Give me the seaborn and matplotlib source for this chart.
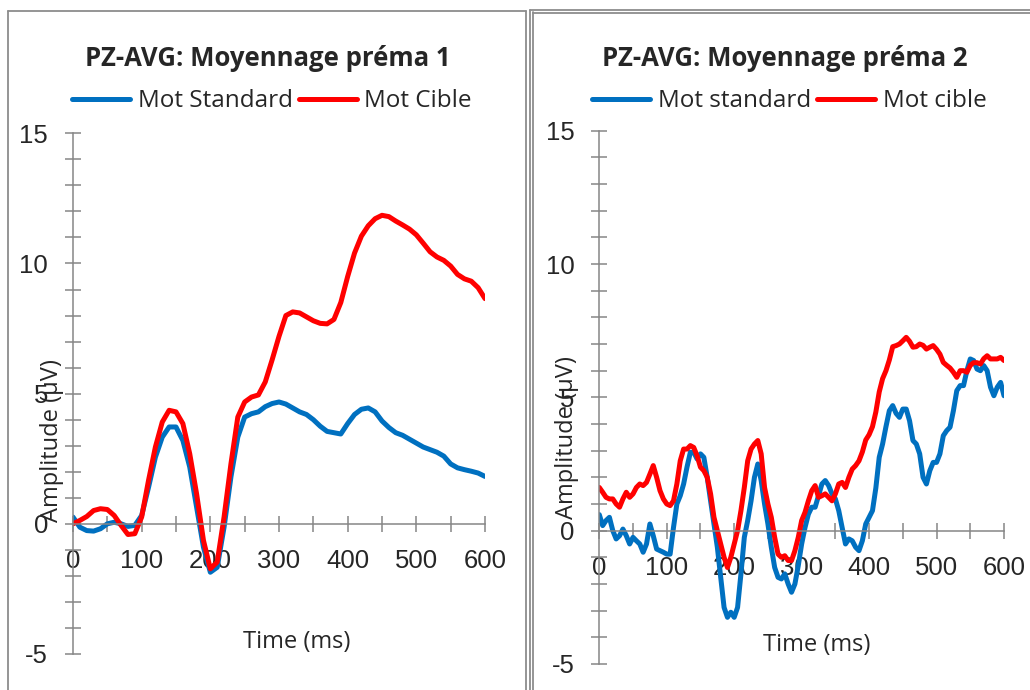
import numpy as np
import pandas as pd
import matplotlib
matplotlib.use("Agg")
import matplotlib.pyplot as plt
from matplotlib.lines import Line2D
import seaborn as sns

# --- data (amplitude in microvolts) ---
time_p1 = list(range(0, 601, 10))
standard_p1 = [0.26, -0.13, -0.26, -0.28, -0.19, 0.0, 0.06, 0.0, -0.1, -0.06,
               0.32, 1.4, 2.56, 3.33, 3.72, 3.72, 3.2, 2.18, 0.64, -0.9,
               -1.86, -1.67, -0.13, 1.8, 3.33, 4.1, 4.23, 4.3, 4.5, 4.62,
               4.68, 4.6, 4.45, 4.3, 4.2, 4.0, 3.75, 3.55, 3.5, 3.45,
               3.85, 4.2, 4.4, 4.45, 4.3, 3.95, 3.7, 3.5, 3.4, 3.25,
               3.1, 2.95, 2.85, 2.75, 2.6, 2.3, 2.15, 2.08, 2.02, 1.95, 1.82]
cible_p1 = [0.0, 0.13, 0.28, 0.51, 0.58, 0.55, 0.32, -0.06, -0.41, -0.38,
            0.26, 1.67, 2.95, 3.91, 4.36, 4.3, 3.85, 2.69, 1.15, -0.64,
            -1.73, -1.47, 0.26, 2.3, 4.1, 4.68, 4.87, 4.95, 5.45, 6.3,
            7.2, 8.0, 8.14, 8.1, 7.95, 7.8, 7.7, 7.68, 7.85, 8.5,
            9.5, 10.4, 11.05, 11.45, 11.72, 11.85, 11.8, 11.63, 11.48, 11.32,
            11.1, 10.78, 10.45, 10.25, 10.12, 9.9, 9.58, 9.41, 9.32, 9.07, 8.65]

time_p2 = list(range(0, 601, 5))
standard_p2 = [0.6, 0.19, 0.38, 0.5, 0.0, -0.31, -0.19, 0.06, -0.19, -0.5,
               -0.25, -0.38, -0.5, -0.81, -0.5, 0.25, -0.19, -0.69, -0.75, -0.81,
               -0.88, -0.88, 0.12, 1.0, 1.31, 1.75, 2.38, 2.94, 2.94, 2.69,
               2.88, 2.75, 2.0, 1.12, 0.25, -0.62, -1.75, -2.88, -3.25, -3.06,
               -3.25, -2.88, -1.62, -0.25, 0.38, 1.12, 2.0, 2.5, 1.88, 1.0,
               0.25, -0.62, -1.38, -1.75, -1.81, -1.62, -2.0, -2.31, -2.0, -1.31,
               -0.5, 0.12, 0.62, 0.88, 0.88, 1.31, 1.75, 1.88, 1.69, 1.38,
               1.19, 0.75, 0.12, -0.5, -0.31, -0.38, -0.62, -0.75, -0.38, 0.25,
               0.5, 0.75, 1.6, 2.75, 3.25, 3.9, 4.5, 4.69, 4.4, 4.25,
               4.56, 4.56, 4.12, 3.38, 3.25, 2.88, 2.0, 1.75, 2.25, 2.56,
               2.56, 2.88, 3.56, 3.75, 3.88, 4.5, 5.25, 5.44, 5.44, 6.0,
               6.44, 6.38, 6.06, 6.0, 6.19, 6.0, 5.38, 5.06, 5.38, 5.56, 5.06]
cible_p2 = [1.62, 1.44, 1.25, 1.19, 1.19, 1.0, 0.88, 1.19, 1.44, 1.25,
            1.38, 1.62, 1.75, 1.69, 1.81, 2.12, 2.44, 2.0, 1.5, 1.19,
            1.0, 0.94, 1.12, 1.75, 2.62, 3.06, 3.06, 3.19, 3.12, 2.81,
            2.38, 2.25, 2.0, 1.38, 0.5, 0.0, -0.5, -1.0, -1.38, -1.0,
            -0.5, 0.0, 0.75, 1.62, 2.62, 3.06, 3.25, 3.38, 2.88, 1.62,
            1.0, 0.5, -0.25, -0.88, -1.0, -0.94, -1.12, -1.12, -0.75, -0.25,
            0.38, 0.69, 1.12, 1.5, 1.69, 1.25, 1.31, 1.38, 1.25, 1.12,
            1.38, 1.75, 1.81, 1.62, 2.0, 2.31, 2.44, 2.62, 2.95, 3.4,
            3.6, 3.9, 4.45, 5.2, 5.7, 6.0, 6.4, 6.9, 6.94, 7.0,
            7.12, 7.25, 7.1, 6.88, 6.9, 7.0, 6.95, 6.81, 6.88, 6.94,
            6.8, 6.62, 6.31, 6.2, 6.1, 5.94, 5.75, 6.0, 6.0, 5.94,
            6.2, 6.3, 6.3, 6.25, 6.45, 6.56, 6.44, 6.44, 6.44, 6.5, 6.38]

titles = ["PZ-AVG: Moyennage préma 1", "PZ-AVG: Moyennage préma 2"]
labels_p1 = ["Mot Standard", "Mot Cible"]
labels_p2 = ["Mot standard", "Mot cible"]

sns.set_style("white")
plt.rcParams["font.family"] = ["Liberation Sans", "DejaVu Sans"]
plt.rcParams["axes.unicode_minus"] = False

BLUE = "#0070C0"
RED = "#FF0000"
GRID = "#868686"
TXT = ["Open Sans", "DejaVu Sans"]

fig = plt.figure(figsize=(10.3, 6.9), dpi=100)


def to_frame(t, a, b, names):
    return pd.concat([
        pd.DataFrame({"t": t, "v": a, "serie": names[0]}),
        pd.DataFrame({"t": t, "v": b, "serie": names[1]}),
    ])


def draw_panel(rect, df, names, title, title_x, leg_xy, ylab_xy, xlab_xy):
    ax = fig.add_axes(rect)
    sns.lineplot(data=df, x="t", y="v", hue="serie", palette=[BLUE, RED],
                 hue_order=names, errorbar=None, linewidth=3.6, ax=ax, sort=False)
    ax.set_xlim(0, 600)
    ax.set_ylim(-5, 15)
    for s in ["top", "right"]:
        ax.spines[s].set_visible(False)
    ax.spines["left"].set_position(("data", 0))
    ax.spines["bottom"].set_position(("data", 0))
    for s in ["left", "bottom"]:
        ax.spines[s].set_color(GRID)
        ax.spines[s].set_linewidth(1.1)
    ax.set_yticks([-5, 0, 5, 10, 15])
    ax.set_yticks(range(-5, 16), minor=True)
    ax.set_xticks(range(0, 601, 100))
    ax.set_xticks(range(0, 601, 50), minor=True)
    ax.tick_params(which="both", left=True, bottom=True, direction="inout",
                   length=12, width=1.1, color=GRID, labelsize=18.5, pad=12)
    ax.set_ylabel("Amplitude (µV)", fontsize=17, family=TXT)
    ax.yaxis.label.set_va("center")
    ax.yaxis.set_label_coords(*ylab_xy)
    ax.set_xlabel("Time (ms)", fontsize=17, family=TXT)
    ax.xaxis.label.set_va("center")
    ax.xaxis.set_label_coords(*xlab_xy)
    sns.move_legend(ax, loc="center", bbox_to_anchor=leg_xy, ncol=2,
                    frameon=False, title=None, handlelength=2.4,
                    handletextpad=0.3, columnspacing=0.25,
                    prop={"family": TXT, "size": 17.5})
    fig.text(title_x, 1 - 58 / 690, title, ha="center", va="center",
             fontsize=18.5, fontweight="bold", family=TXT)
    return ax


draw_panel([73 / 1030, 0.0522, 412 / 1030, 0.7546],
           to_frame(time_p1, standard_p1, cible_p1, labels_p1), labels_p1,
           titles[0], 268 / 1030, (0.483, 1.062), (-0.051, 0.41), (0.544, 0.023))
draw_panel([599.3 / 1030, 0.0377, 404.7 / 1030, 0.7729],
           to_frame(time_p2, standard_p2, cible_p2, labels_p2), labels_p2,
           titles[1], 785 / 1030, (0.469, 1.0556), (-0.08, 0.425), (0.538, 0.0356))

# panel frames like the pasted Excel charts
W, H = 1030, 690
frame = dict(color="#8c8c8c", linewidth=1.3, transform=fig.transFigure)
for xs, ys in [([8, 8], [H + 5, 11]), ([8, 526], [11, 11]), ([526, 526], [11, H + 5]),
               ([529.5, 529.5], [H + 5, 10]), ([532.5, 532.5], [H + 5, 12]),
               ([529.5, W + 5], [10, 10]), ([532.5, W + 5], [12.5, 12.5])]:
    fig.add_artist(Line2D([x / W for x in xs], [1 - y / H for y in ys], **frame))

fig.savefig("out.png", dpi=100)
